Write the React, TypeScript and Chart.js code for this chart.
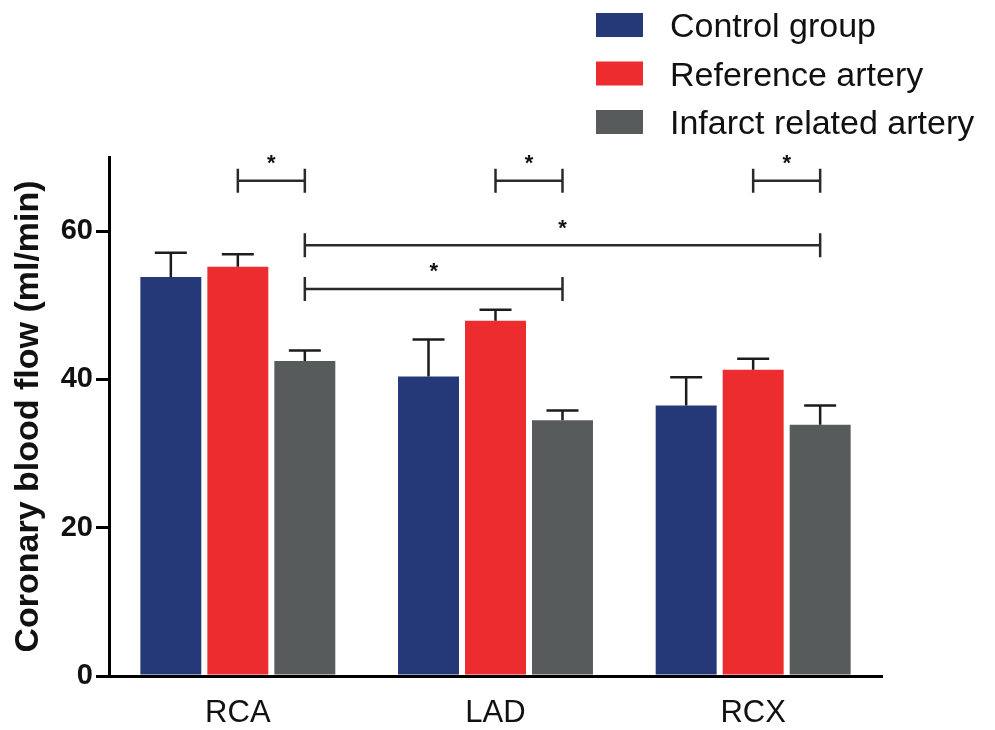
import React, { useEffect, useRef } from "react";
import { Chart, registerables } from "chart.js";

Chart.register(...registerables);

// ---- data ----
const categories = ["RCA", "LAD", "RCX"];
const seriesNames = ["Control group", "Reference artery", "Infarct related artery"];
const seriesColors = ["#253878", "#ec2c2e", "#585b5b"];
const controlValues = [53.8, 40.4, 36.5];
const referenceValues = [55.2, 47.9, 41.3];
const infarctValues = [42.5, 34.5, 33.9];
const controlErrors = [3.3, 5.0, 3.8];
const referenceErrors = [1.7, 1.5, 1.5];
const infarctErrors = [1.4, 1.3, 2.6];
const yTickValues = [0, 20, 40, 60];
const yMin = 0;
const yMax = 70;
const yTitle = "Coronary blood flow (ml/min)";

// significance brackets (category index, series index, level)
const bracketStartCategory = [0, 1, 2, 0, 0];
const bracketStartSeries = [1, 1, 1, 2, 2];
const bracketEndCategory = [0, 1, 2, 2, 1];
const bracketEndSeries = [2, 2, 2, 2, 2];
const bracketLevels = [66.8, 66.8, 66.8, 58.1, 52.2];
const bracketLabels = ["*", "*", "*", "*", "*"];

const FONT = "'Liberation Sans', Arial, Helvetica, sans-serif";

const seriesValues = [controlValues, referenceValues, infarctValues];
const seriesErrors = [controlErrors, referenceErrors, infarctErrors];

const W = 979;
const H = 722;

const errorBarPlugin = {
  id: "errorBars",
  afterDatasetsDraw(chart: any) {
    const ctx = chart.ctx;
    const y = chart.scales.y;
    ctx.save();
    ctx.strokeStyle = "#1c1c1c";
    ctx.lineWidth = 2.5;
    chart.data.datasets.forEach((ds: any, di: number) => {
      const meta = chart.getDatasetMeta(di);
      meta.data.forEach((el: any, i: number) => {
        const v = ds.data[i];
        const e = seriesErrors[di][i];
        const yTop = y.getPixelForValue(v + e);
        const yBar = y.getPixelForValue(v);
        ctx.beginPath();
        ctx.moveTo(el.x, yBar);
        ctx.lineTo(el.x, yTop);
        ctx.moveTo(el.x - 16, yTop);
        ctx.lineTo(el.x + 16, yTop);
        ctx.stroke();
      });
    });
    ctx.restore();
  },
};

const bracketPlugin = {
  id: "brackets",
  afterDatasetsDraw(chart: any) {
    const ctx = chart.ctx;
    const y = chart.scales.y;
    ctx.save();
    ctx.strokeStyle = "#2a2a2a";
    ctx.lineWidth = 2.5;
    for (let i = 0; i < bracketLevels.length; i++) {
      const a = chart.getDatasetMeta(bracketStartSeries[i]).data[bracketStartCategory[i]];
      const b = chart.getDatasetMeta(bracketEndSeries[i]).data[bracketEndCategory[i]];
      const yy = y.getPixelForValue(bracketLevels[i]);
      ctx.beginPath();
      ctx.moveTo(a.x, yy);
      ctx.lineTo(b.x, yy);
      ctx.moveTo(a.x, yy - 12);
      ctx.lineTo(a.x, yy + 12);
      ctx.moveTo(b.x, yy - 12);
      ctx.lineTo(b.x, yy + 12);
      ctx.stroke();
      ctx.fillStyle = "#111";
      ctx.font = `bold 22px ${FONT}`;
      ctx.textAlign = "center";
      ctx.textBaseline = "alphabetic";
      ctx.fillText(bracketLabels[i], (a.x + b.x) / 2, yy - 23 + 12.5);
    }
    ctx.restore();
  },
};

const legendPlugin = {
  id: "customLegend",
  afterDraw(chart: any) {
    const ctx = chart.ctx;
    ctx.save();
    const rowCenters = [17, 65.5, 114];
    chart.data.datasets.forEach((ds: any, i: number) => {
      const cy = rowCenters[i];
      ctx.fillStyle = ds.backgroundColor;
      ctx.fillRect(588, cy - 12, 47, 24);
      ctx.fillStyle = "#111";
      ctx.font = `34px ${FONT}`;
      ctx.textAlign = "left";
      ctx.textBaseline = "alphabetic";
      ctx.fillText(ds.label, 662, cy + 12);
    });
    ctx.restore();
  },
};

export default function App() {
  const canvasRef = useRef<HTMLCanvasElement | null>(null);

  useEffect(() => {
    if (!canvasRef.current) return;
    const chart = new Chart(canvasRef.current, {
      type: "bar",
      data: {
        labels: categories,
        datasets: seriesNames.map((name, i) => ({
          label: name,
          data: seriesValues[i],
          backgroundColor: seriesColors[i],
          borderWidth: 0,
          categoryPercentage: 0.78,
          barPercentage: 0.91,
        })),
      },
      options: {
        animation: false,
        responsive: false,
        devicePixelRatio: 1,
        layout: { padding: { top: 149, right: 105, left: 0, bottom: 0 } },
        plugins: {
          legend: { display: false },
          tooltip: { enabled: false },
        },
        scales: {
          x: {
            grid: { display: false, drawTicks: false },
            border: { display: true, color: "#000", width: 3 },
            ticks: { color: "#111", font: { size: 31, family: FONT, lineHeight: 1 }, padding: 22 },
            afterFit: (s: any) => {
              s.height = H - 668;
            },
          },
          y: {
            min: yMin,
            max: yMax,
            ticks: {
              stepSize: 20,
              color: "#111",
              font: { size: 29, weight: "bold", family: FONT },
              padding: 3,
            },
            afterBuildTicks: (s: any) => {
              s.ticks = s.ticks.filter((t: any) => yTickValues.includes(t.value));
            },
            grid: {
              display: true,
              drawOnChartArea: false,
              drawTicks: true,
              tickLength: 13,
              color: "#000",
              lineWidth: 3,
            },
            border: { display: true, color: "#000", width: 3 },
            title: {
              display: true,
              text: yTitle,
              color: "#111",
              font: { size: 34, weight: "bold", family: FONT },
              padding: 0,
            },
            afterFit: (s: any) => {
              s.width = 101;
            },
          },
        },
      },
      plugins: [errorBarPlugin, bracketPlugin, legendPlugin],
    } as any);
    return () => chart.destroy();
  }, []);

  return (
    <div style={{ width: W, height: H, marginBottom: -8 }}>
      <canvas ref={canvasRef} width={W} height={H} style={{ display: "block" }} />
    </div>
  );
}
